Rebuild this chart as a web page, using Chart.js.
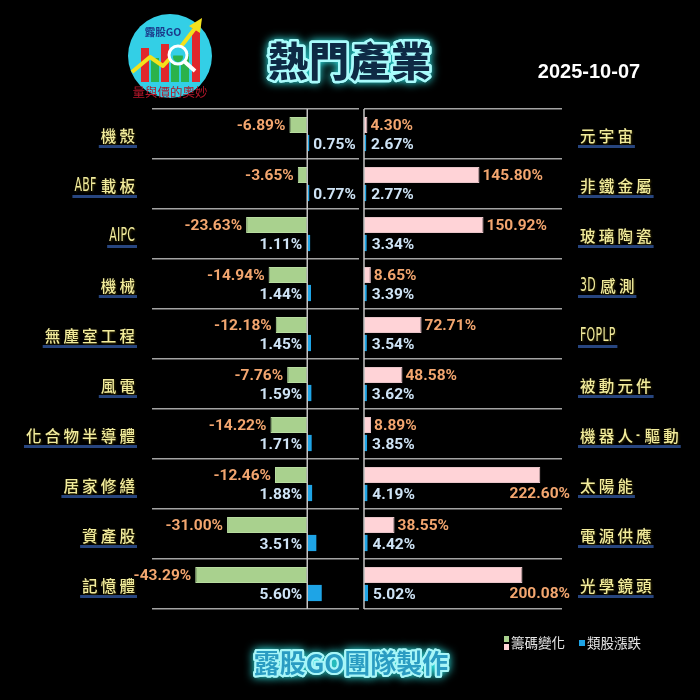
<!DOCTYPE html>
<html>
<head>
<meta charset="utf-8">
<script src="https://cdn.jsdelivr.net/npm/chart.js@4.4.1/dist/chart.umd.min.js"></script>
<style>
html,body{margin:0;padding:0;background:#000;width:700px;height:700px;overflow:hidden;}
canvas{position:absolute;left:0;top:0;}
</style>
</head>
<body>
<canvas id="left" width="700" height="700"></canvas>
<canvas id="right" width="700" height="700"></canvas>
<script>
const titleText = '熱門產業';
const dateText = '2025-10-07';
const footerText = '露股GO團隊製作';
const seriesNames = ['籌碼變化', '類股漲跌'];

const leftCats = ['機殼','ABF載板','AIPC','機械','無塵室工程','風電','化合物半導體','居家修繕','資產股','記憶體'];
const leftChip = [-6.89,-3.65,-23.63,-14.94,-12.18,-7.76,-14.22,-12.46,-31.00,-43.29];
const leftPrice = [0.75,0.77,1.11,1.44,1.45,1.59,1.71,1.88,3.51,5.60];

const rightCats = ['元宇宙','非鐵金屬','玻璃陶瓷','3D感測','FOPLP','被動元件','機器人-驅動','太陽能','電源供應','光學鏡頭'];
const rightChip = [4.30,145.80,150.92,8.65,72.71,48.58,8.89,222.60,38.55,200.08];
const rightPrice = [2.67,2.77,3.34,3.39,3.54,3.62,3.85,4.19,4.42,5.02];

const GREEN = '#a9d18e', PINK = '#ffd3d7', BLUE = '#1ea4e6';
const ORANGE = '#f3a66f', PALE = '#cfe4f6';
const GRID = '#a3a3a3';

const CJK_FONT = '500 15.5px "Noto Sans CJK TC"';
const LAT_FONT = '500 19px "DejaVu Sans Condensed", "Liberation Sans", sans-serif';
const LAT_SX = 0.64;

function isLatin(ch){ return /[\x00-\x7F]/.test(ch); }
function gapAfter(lat, nextLat){ return lat ? (nextLat ? 0.3 : 4.5) : 3.2; }

function measureLabel(ctx, txt){
  let w = 0;
  const chars = Array.from(txt);
  chars.forEach((ch,k)=>{
    const lat = isLatin(ch);
    ctx.font = lat ? LAT_FONT : CJK_FONT;
    w += ctx.measureText(ch).width * (lat ? LAT_SX : 1);
    if(k < chars.length-1) w += gapAfter(lat, isLatin(chars[k+1]));
  });
  return w;
}
function drawLabel(ctx, txt, x, y){
  const chars = Array.from(txt);
  chars.forEach((ch,k)=>{
    const lat = isLatin(ch);
    ctx.font = lat ? LAT_FONT : CJK_FONT;
    const cw = ctx.measureText(ch).width * (lat ? LAT_SX : 1);
    if(lat){
      ctx.save(); ctx.translate(x, y+0.5); ctx.scale(LAT_SX, 1); ctx.fillText(ch, 0, 0); ctx.restore();
    } else {
      ctx.fillText(ch, x, y);
    }
    x += cw;
    if(k < chars.length-1) x += gapAfter(lat, isLatin(chars[k+1]));
  });
}

function drawLogo(ctx){
  ctx.save();
  ctx.beginPath(); ctx.arc(170,56,42,0,Math.PI*2); ctx.fillStyle='#33cfe6'; ctx.fill();
  const bars=[[141,48,'#e0282c'],[151,58,'#2bb24c'],[161,44,'#e0282c'],[171,62,'#2bb24c'],[181,54,'#2bb24c'],[192,26,'#e0282c']];
  bars.forEach(b=>{ctx.fillStyle=b[2]; ctx.fillRect(b[0],b[1],8,82-b[1]);});
  ctx.strokeStyle='#f3e21c'; ctx.lineWidth=4; ctx.lineJoin='round';
  ctx.beginPath(); ctx.moveTo(132,72); ctx.lineTo(150,57); ctx.lineTo(163,66); ctx.lineTo(183,44); ctx.lineTo(196,27); ctx.stroke();
  ctx.fillStyle='#f3e21c'; ctx.beginPath(); ctx.moveTo(202,18); ctx.lineTo(200,33); ctx.lineTo(189,26); ctx.closePath(); ctx.fill();
  ctx.beginPath(); ctx.arc(178,55,9,0,Math.PI*2); ctx.fillStyle='#33cfe6'; ctx.fill();
  ctx.strokeStyle='#ffffff'; ctx.lineWidth=3; ctx.stroke();
  ctx.beginPath(); ctx.arc(178,57,5,Math.PI*1.1,Math.PI*1.9,true); ctx.fillStyle='#2bb24c'; ctx.fill();
  ctx.beginPath(); ctx.moveTo(185,62); ctx.lineTo(195,71); ctx.strokeStyle='#ffffff'; ctx.lineWidth=4; ctx.stroke();
  ctx.fillStyle='#1b3a8a'; ctx.font='700 10.5px "Noto Sans CJK TC"'; ctx.textAlign='center'; ctx.textBaseline='middle';
  ctx.fillText('露股GO',163,32);
  ctx.fillStyle='#b3162a'; ctx.font='12.5px "Noto Sans CJK TC"';
  ctx.fillText('量與價的奧妙',170,92);
  ctx.restore();
}

function glowText(ctx, txt, x, y, font, fill, stroke, glow, lw, spacing){
  ctx.save();
  ctx.font=font; ctx.textAlign='center'; ctx.textBaseline='middle';
  ctx.letterSpacing=spacing;
  ctx.shadowColor=glow; ctx.shadowBlur=10;
  ctx.strokeStyle=stroke; ctx.lineWidth=lw; ctx.lineJoin='round';
  ctx.strokeText(txt,x,y);
  ctx.shadowBlur=0;
  ctx.strokeText(txt,x,y);
  ctx.fillStyle=fill; ctx.fillText(txt,x,y);
  ctx.restore();
}

function makePanel(id, side, cats, chip, price){
  const isLeft = side==='left';
  const panelPlugin = {
    id:'panel_'+side,
    afterDraw(chart){
      const ctx=chart.ctx, ca=chart.chartArea;
      const xs=chart.scales.x, ys=chart.scales.y;
      ctx.save();
      const zx = xs.getPixelForValue(0);
      ctx.strokeStyle='#c4c4c4'; ctx.lineWidth=1.5;
      ctx.beginPath(); ctx.moveTo(zx,ca.top); ctx.lineTo(zx,ca.bottom); ctx.stroke();
      ctx.letterSpacing='0px';
      ctx.textBaseline='middle';
      ctx.textAlign='left';
      cats.forEach((c,i)=>{
        const y = ys.getPixelForValue(i);
        const w = measureLabel(ctx, c);
        const x0 = isLeft ? 135 - w : 580;
        ctx.fillStyle='#27457f';
        ctx.fillRect(x0-2, y+11, w+4, 3);
        ctx.shadowColor='rgba(60,50,0,0.9)'; ctx.shadowBlur=2; ctx.shadowOffsetX=1; ctx.shadowOffsetY=1;
        ctx.fillStyle='#f2ec9c';
        drawLabel(ctx, c, x0, y+2);
        ctx.shadowColor='transparent'; ctx.shadowBlur=0; ctx.shadowOffsetX=0; ctx.shadowOffsetY=0;
      });
      ctx.font='700 15.5px Roboto';
      const m0 = chart.getDatasetMeta(0).data, m1 = chart.getDatasetMeta(1).data;
      m0.forEach((bar,i)=>{
        const txt = chip[i].toFixed(2)+'%';
        ctx.fillStyle=ORANGE;
        if(isLeft){
          ctx.textAlign='right'; ctx.fillText(txt, bar.x-4, bar.y+1);
        } else {
          const w = ctx.measureText(txt).width;
          if(bar.x+4+w <= ca.right){ ctx.textAlign='left'; ctx.fillText(txt, bar.x+3, bar.y+1); }
          else { ctx.textAlign='right'; ctx.fillText(txt, ca.right+8, m1[i].y+1); }
        }
      });
      m1.forEach((bar,i)=>{
        const txt = price[i].toFixed(2)+'%';
        ctx.fillStyle=PALE;
        if(isLeft){
          if(price[i] < 1){ ctx.textAlign='left'; ctx.fillText(txt, bar.x+4, bar.y+2); }
          else { ctx.textAlign='right'; ctx.fillText(txt, bar.base-5, bar.y+2); }
        } else {
          ctx.textAlign='left'; ctx.fillText(txt, bar.x+5, bar.y+2);
        }
      });
      ctx.restore();
      if(isLeft){
        drawLogo(ctx);
        glowText(ctx, titleText, 350, 61, '900 40px "Noto Sans CJK TC"', '#0e2a45', '#a8fbfb', '#33ffff', 5, '1px');
        glowText(ctx, footerText, 351, 663, '700 26px "Noto Sans CJK TC"', '#2a9cc2', '#a8f6f8', '#33ffff', 4, '0px');
        ctx.save();
        ctx.font='bold 20px "Liberation Sans"'; ctx.fillStyle='#ffffff'; ctx.textAlign='center'; ctx.textBaseline='middle';
        ctx.fillText(dateText, 589, 72);
        ctx.restore();
      } else {
        ctx.save();
        ctx.font='13.5px "Noto Sans CJK TC"'; ctx.textBaseline='middle'; ctx.textAlign='left';
        ctx.fillStyle=GREEN; ctx.fillRect(504,636,5,6);
        ctx.fillStyle=PINK; ctx.fillRect(504,644,5,6);
        ctx.fillStyle='#e6e6e6'; ctx.fillText(chart.data.datasets[0].label, 511, 643);
        ctx.fillStyle=BLUE; ctx.fillRect(579,640,6,6);
        ctx.fillStyle='#e6e6e6'; ctx.fillText(chart.data.datasets[1].label, 587, 643);
        ctx.restore();
      }
    }
  };
  return new Chart(document.getElementById(id), {
    type:'bar',
    data:{
      labels:cats,
      datasets:[
        {label:seriesNames[0], data:chip, backgroundColor: isLeft?GREEN:PINK, borderColor: isLeft?'#b8dca0':'#e8c4c8', borderWidth:1, borderSkipped:false, categoryPercentage:0.72, barPercentage:0.9},
        {label:seriesNames[1], data:price, backgroundColor:BLUE, categoryPercentage:0.72, barPercentage:0.9}
      ]
    },
    options:{
      indexAxis:'y',
      responsive:false,
      animation:false,
      layout:{padding: isLeft ? {top:109,bottom:91,left:0,right:341} : {top:109,bottom:91,left:364,right:0}},
      plugins:{legend:{display:false}, tooltip:{enabled:false}},
      scales:{
        x: isLeft ? {min:-60,max:20,display:false} : {min:0,max:250,display:false},
        y:{
          position: isLeft?'left':'right',
          grid:{color:GRID, lineWidth:1.5, offset:true, drawTicks:false},
          border:{display:false},
          ticks:{display:false},
          afterFit(s){ s.width = isLeft ? 152 : 138; }
        }
      }
    },
    plugins:[panelPlugin]
  });
}

makePanel('left','left',leftCats,leftChip,leftPrice);
makePanel('right','right',rightCats,rightChip,rightPrice);
</script>
</body>
</html>
